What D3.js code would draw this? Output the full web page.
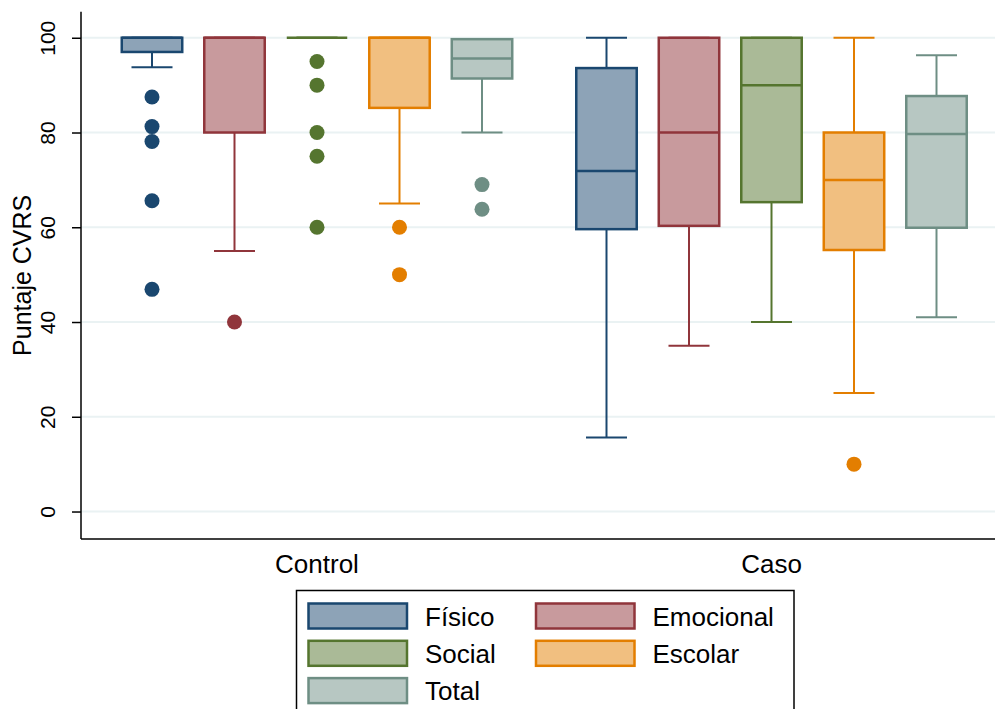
<!DOCTYPE html>
<html>
<head>
<meta charset="utf-8">
<script src="https://cdn.jsdelivr.net/npm/d3@7"></script>
<style>
  html, body { margin: 0; padding: 0; background: #fff; }
  svg { display: block; }
</style>
</head>
<body>
<main></main>
<script>
const groups = ['Control', 'Caso'];
const series = ['Físico', 'Emocional', 'Social', 'Escolar', 'Total'];
const lineColors = ['#1a476f', '#90353b', '#55752f', '#e37e00', '#6e8e84'];
const yTicks = [0, 20, 40, 60, 80, 100];

// one row per group, one value per series
const whiskerLow = [[93.8, 55, 100, 65, 80], [15.6, 35, 40, 25, 41]];
const quartile1 = [[97, 80, 100, 85.2, 91.4], [59.6, 60.3, 65.3, 55.2, 59.9]];
const medians = [[100, 100, 100, 100, 95.6], [71.9, 80, 90, 70, 79.7]];
const quartile3 = [[100, 100, 100, 100, 99.7], [93.6, 100, 100, 80, 87.7]];
const whiskerHigh = [[100, 100, 100, 100, 99.7], [100, 100, 100, 100, 96.3]];
const outliers = [
  [[87.5, 81.25, 78.1, 65.6, 46.9], [40], [95, 90, 80, 75, 60], [60, 50], [69, 63.8]],
  [[], [], [], [10], []]
];

const width = 995;
const height = 709;
const plotLeft = 81;
const plotTop = 11.7;
const plotBottom = 539;
const font = "'Liberation Sans', Arial, sans-serif";

const fillColors = lineColors.map(c => d3.interpolateRgb(c, 'white')(0.5));
const color = d3.scaleOrdinal().domain(series).range(lineColors);
const fill = d3.scaleOrdinal().domain(series).range(fillColors);

const svg = d3.select('main')
  .append('svg')
  .attr('width', width)
  .attr('height', height)
  .style('font-family', font);

// Scales
const y = d3.scaleLinear()
  .domain([-5.8, 105.5])
  .range([plotBottom, plotTop]);

const xGroup = d3.scalePoint()
  .domain(groups)
  .range([317, 771.5]);

const xSeries = d3.scaleBand()
  .domain(series)
  .range([-206.25, 206.25])
  .paddingInner(0.267)
  .paddingOuter(0.1335);

const boxWidth = xSeries.bandwidth();
const capWidth = 41;

// Grid
svg.append('g')
  .selectAll('line')
  .data(yTicks)
  .enter()
  .append('line')
  .attr('x1', plotLeft)
  .attr('x2', width)
  .attr('y1', d => y(d))
  .attr('y2', d => y(d))
  .attr('stroke', '#eaf2f3')
  .attr('stroke-width', 2);

// Boxes
const boxes = [];
groups.forEach((g, gi) => {
  series.forEach((s, si) => {
    boxes.push({
      group: g, series: s,
      lo: whiskerLow[gi][si], q1: quartile1[gi][si], med: medians[gi][si],
      q3: quartile3[gi][si], hi: whiskerHigh[gi][si], out: outliers[gi][si]
    });
  });
});

const cx = d => xGroup(d.group) + xSeries(d.series) + boxWidth / 2;

const box = svg.append('g')
  .selectAll('g')
  .data(boxes)
  .enter()
  .append('g')
  .attr('transform', d => `translate(${cx(d)}, 0)`);

// whiskers
box.append('line')
  .attr('y1', d => y(d.q3))
  .attr('y2', d => y(d.hi))
  .attr('stroke', d => color(d.series))
  .attr('stroke-width', 2);

box.append('line')
  .attr('y1', d => y(d.q1))
  .attr('y2', d => y(d.lo))
  .attr('stroke', d => color(d.series))
  .attr('stroke-width', 2);

box.selectAll('.cap')
  .data(d => [d.lo, d.hi].map(v => ({ v, series: d.series })))
  .enter()
  .append('line')
  .attr('class', 'cap')
  .attr('x1', -capWidth / 2)
  .attr('x2', capWidth / 2)
  .attr('y1', d => y(d.v))
  .attr('y2', d => y(d.v))
  .attr('stroke', d => color(d.series))
  .attr('stroke-width', 2);

box.append('rect')
  .attr('x', -boxWidth / 2)
  .attr('y', d => y(d.q3))
  .attr('width', boxWidth)
  .attr('height', d => y(d.q1) - y(d.q3))
  .attr('fill', d => fill(d.series))
  .attr('stroke', d => color(d.series))
  .attr('stroke-width', 2.5);

box.append('line')
  .attr('x1', -boxWidth / 2)
  .attr('x2', boxWidth / 2)
  .attr('y1', d => y(d.med))
  .attr('y2', d => y(d.med))
  .attr('stroke', d => color(d.series))
  .attr('stroke-width', 2.5);

box.selectAll('circle')
  .data(d => d.out.map(v => ({ v, series: d.series })))
  .enter()
  .append('circle')
  .attr('cy', d => y(d.v))
  .attr('r', 7.5)
  .attr('fill', d => color(d.series));

// Axes
const yAxis = svg.append('g')
  .attr('transform', `translate(${plotLeft}, 0)`)
  .call(d3.axisLeft(y).tickValues(yTicks).tickSize(9).tickSizeOuter(0).tickFormat(d3.format('d')));

yAxis.select('.domain')
  .attr('d', `M0,${plotTop}V${plotBottom}`)
  .attr('stroke', '#000')
  .attr('stroke-width', 1.5);

yAxis.selectAll('.tick line')
  .attr('stroke', '#000')
  .attr('stroke-width', 1.5);

yAxis.selectAll('.tick text')
  .attr('x', 0)
  .attr('y', 0)
  .attr('dy', 0)
  .attr('transform', 'translate(-26, 0) rotate(-90)')
  .attr('text-anchor', 'middle')
  .style('font-size', '21px')
  .style('font-family', font)
  .attr('fill', '#000');

svg.append('line')
  .attr('x1', plotLeft)
  .attr('x2', width)
  .attr('y1', plotBottom)
  .attr('y2', plotBottom)
  .attr('stroke', '#000')
  .attr('stroke-width', 1.5);

svg.append('g')
  .selectAll('text')
  .data(groups)
  .enter()
  .append('text')
  .attr('x', d => xGroup(d))
  .attr('y', 573)
  .attr('text-anchor', 'middle')
  .style('font-size', '26px')
  .text(d => d);

// Y title
svg.append('text')
  .attr('transform', `translate(31, ${(plotTop + plotBottom) / 2}) rotate(-90)`)
  .attr('text-anchor', 'middle')
  .style('font-size', '25px')
  .text('Puntaje CVRS');

// Legend
const legend = svg.append('g')
  .attr('transform', 'translate(296.5, 590.5)');

legend.append('rect')
  .attr('width', 497.5)
  .attr('height', 140)
  .attr('fill', '#fff')
  .attr('stroke', '#000')
  .attr('stroke-width', 1.5);

const item = legend.selectAll('.legend-item')
  .data(series)
  .enter()
  .append('g')
  .attr('class', 'legend-item')
  .attr('transform', (d, i) => `translate(${12 + (i % 2) * 227.5}, ${13 + Math.floor(i / 2) * 37.3})`);

item.append('rect')
  .attr('width', 98.5)
  .attr('height', 25)
  .attr('fill', d => fill(d))
  .attr('stroke', d => color(d))
  .attr('stroke-width', 2.5);

item.append('text')
  .attr('x', 116.5)
  .attr('y', 22)
  .style('font-size', '26px')
  .text(d => d);
</script>
</body>
</html>
